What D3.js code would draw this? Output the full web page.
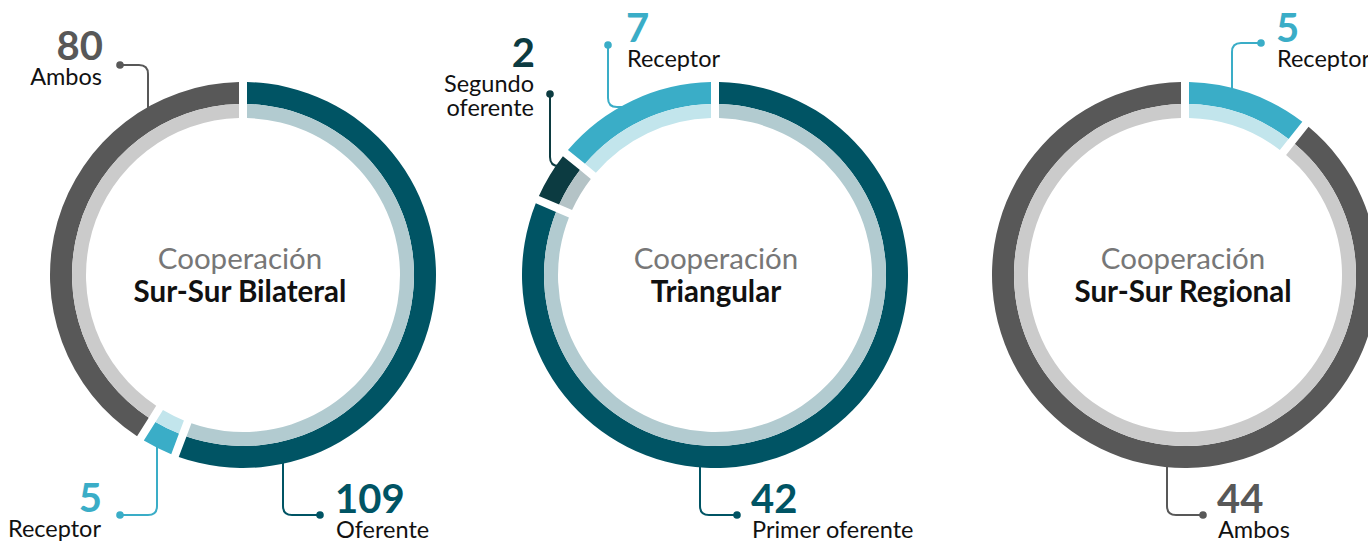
<!DOCTYPE html>
<html>
<head>
<meta charset="utf-8">
<script src="https://cdn.jsdelivr.net/npm/d3@7"></script>
<style>
  html, body { margin: 0; padding: 0; background: #fff; }
  svg { display: block; font-family: Lato, "Open Sans", sans-serif; }
</style>
</head>
<body>
<div id="chart"></div>
<script>
// Chart titles and values per cooperation modality.
const chartTitles = ["Sur-Sur Bilateral", "Triangular", "Sur-Sur Regional"];
const bilateralRoles = ["Oferente", "Receptor", "Ambos"];
const bilateralValues = [109, 5, 80];
const triangularRoles = ["Primer oferente", "Segundo oferente", "Receptor"];
const triangularValues = [42, 2, 7];
const regionalRoles = ["Receptor", "Ambos"];
const regionalValues = [5, 44];

const width = 1368;
const height = 542;

// Colours per role: outer thick band and inner light band.
const outerColor = d3.scaleOrdinal()
    .domain(["Oferente", "Primer oferente", "Segundo oferente", "Receptor", "Ambos"])
    .range(["#005464", "#005464", "#0c3b41", "#3aadc7", "#585858"]);
const innerColor = d3.scaleOrdinal()
    .domain(["Oferente", "Primer oferente", "Segundo oferente", "Receptor", "Ambos"])
    .range(["#b2cbd0", "#b2cbd0", "#b4c3c6", "#c2e5ec", "#cbcbcb"]);

const cy = 275;
const rOuter = 193, rMid = 171, rInner = 157;
const gap = 8;

// Layout of each donut and its callouts (label anchor, leader line).
const layouts = [
    {
        cx: 243, titleDx: -3,
        callouts: [
            { role: "Oferente", anchor: "start", tx: 335, ty: 513, dot: [320, 515], lx: 283, dir: "down" },
            { role: "Receptor", anchor: "end", tx: 102, ty: 512, dot: [120, 515], lx: 157, dir: "down" },
            { role: "Ambos", anchor: "end", tx: 103, ty: 60, dot: [120, 65], lx: 148, dir: "up" }
        ]
    },
    {
        cx: 715, titleDx: 1,
        callouts: [
            { role: "Primer oferente", anchor: "start", tx: 751, ty: 513, dot: [737, 515], lx: 700, dir: "down" },
            { role: "Segundo oferente", anchor: "end", tx: 535, ty: 67, dot: [550, 94], ly: 166, dir: "side", lines: ["Segundo", "oferente"] },
            { role: "Receptor", anchor: "start", tx: 626, ty: 42, dot: [608, 45], ly: 107, dir: "side" }
        ]
    },
    {
        cx: 1185, titleDx: -2,
        callouts: [
            { role: "Receptor", anchor: "start", tx: 1276, ty: 42, dot: [1261, 43], lx: 1232, dir: "up" },
            { role: "Ambos", anchor: "start", tx: 1217, ty: 513, dot: [1203, 515], lx: 1167, dir: "down" }
        ]
    }
];

const datasets = [
    { roles: bilateralRoles, values: bilateralValues },
    { roles: triangularRoles, values: triangularValues },
    { roles: regionalRoles, values: regionalValues }
];

const svg = d3.select("#chart")
    .append("svg")
    .attr("width", width)
    .attr("height", height);

const pie = d3.pie()
    .sort(null)
    .value(d => d.value)
    .padAngle(gap / rOuter);

const outerArc = d3.arc().innerRadius(rMid).outerRadius(rOuter).padRadius(rOuter);
const innerArc = d3.arc().innerRadius(rInner).outerRadius(rMid).padRadius(rOuter);

datasets.forEach(function(ds, i) {
    const lay = layouts[i];
    const cx = lay.cx;
    const data = ds.roles.map((r, j) => ({ role: r, value: ds.values[j] }));
    const arcs = pie(data);
    const valueOf = role => data.find(d => d.role === role).value;

    // Leader lines, drawn under the rings.
    const leaders = svg.append("g").attr("fill", "none").attr("stroke-width", 2);
    lay.callouts.forEach(function(c) {
        const col = outerColor(c.role);
        const r = 9;
        const [dx, dy] = c.dot;
        let path;
        if (c.dir === "down" || c.dir === "up") {
            const off = c.lx - cx;
            const ringY = c.dir === "down"
                ? cy + Math.sqrt(rOuter * rOuter - off * off) - 3
                : cy - Math.sqrt(rOuter * rOuter - off * off) + 3;
            const sx = c.lx > dx ? -1 : 1;
            const sy = ringY > dy ? 1 : -1;
            path = `M${dx},${dy} H${c.lx + sx * r} Q${c.lx},${dy} ${c.lx},${dy + sy * r} V${ringY}`;
        } else {
            const off = c.ly - cy;
            const ringX = cx - Math.sqrt(rOuter * rOuter - off * off) + 4;
            path = `M${dx},${dy} V${c.ly - r} Q${dx},${c.ly} ${dx + r},${c.ly} H${ringX}`;
        }
        leaders.append("path").attr("d", path).attr("stroke", col);
        leaders.append("circle").attr("cx", dx).attr("cy", dy).attr("r", 3.8).attr("fill", col);
    });

    // Donut rings.
    const g = svg.append("g").attr("transform", `translate(${cx},${cy})`);
    g.selectAll("path.outer")
        .data(arcs)
        .enter()
        .append("path")
        .attr("class", "outer")
        .attr("d", outerArc)
        .attr("fill", d => outerColor(d.data.role));
    g.selectAll("path.inner")
        .data(arcs)
        .enter()
        .append("path")
        .attr("class", "inner")
        .attr("d", innerArc)
        .attr("fill", d => innerColor(d.data.role));

    // Centre title.
    g.append("text")
        .attr("text-anchor", "middle")
        .attr("x", lay.titleDx)
        .attr("y", -6)
        .attr("font-size", 29.5)
        .attr("fill", "#777777")
        .text("Cooperación");
    g.append("text")
        .attr("text-anchor", "middle")
        .attr("x", lay.titleDx)
        .attr("y", 27)
        .attr("font-size", 29.5)
        .attr("font-weight", "bold")
        .attr("fill", "#111111")
        .text(chartTitles[i]);

    // Value and role labels.
    lay.callouts.forEach(function(c) {
        svg.append("text")
            .attr("x", c.tx)
            .attr("y", c.ty)
            .attr("text-anchor", c.anchor)
            .attr("font-size", 40)
            .attr("font-weight", "bold")
            .attr("fill", outerColor(c.role))
            .text(valueOf(c.role));
        const lines = c.lines || [c.role];
        lines.forEach(function(line, k) {
            svg.append("text")
                .attr("x", c.anchor === "end" ? c.tx - 1 : c.tx + 1)
                .attr("y", c.ty + 25 + k * 24)
                .attr("text-anchor", c.anchor)
                .attr("font-size", 23.5)
                .attr("fill", "#111111")
                .text(line);
        });
    });
});
</script>
</body>
</html>
